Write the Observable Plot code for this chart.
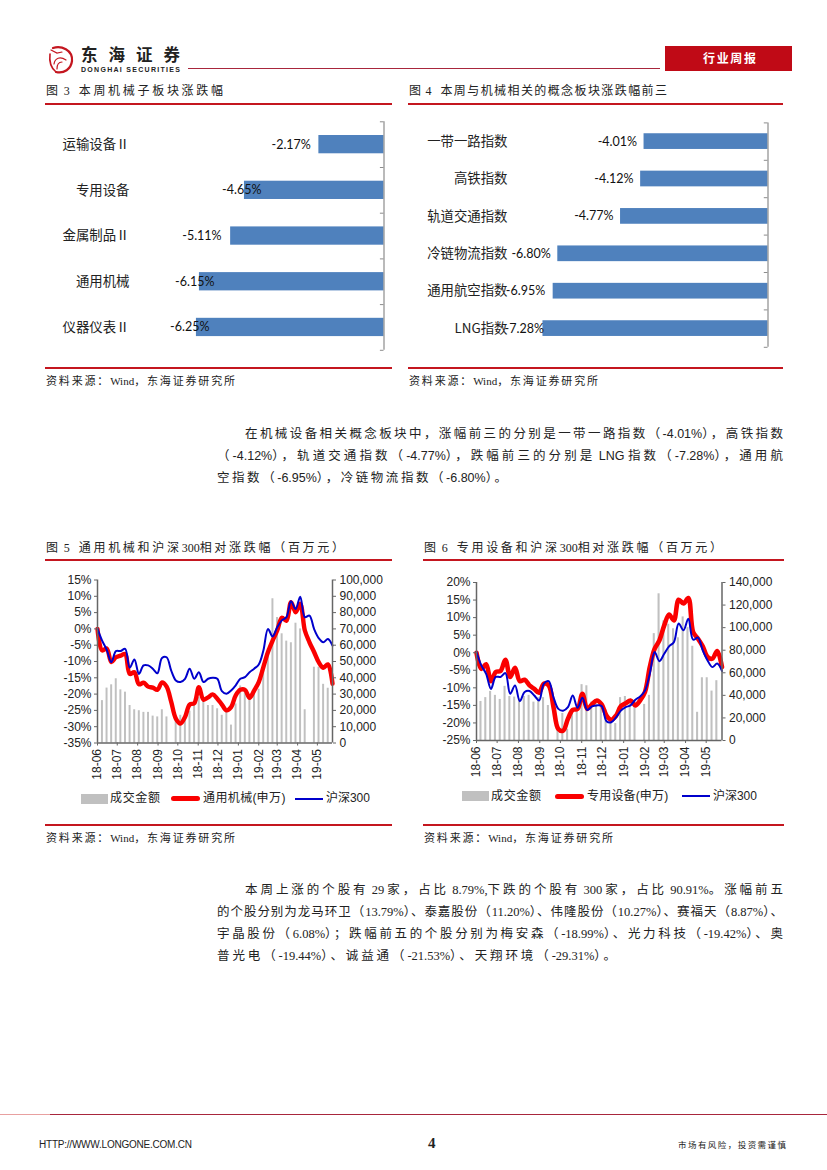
<!DOCTYPE html>
<html><head><meta charset="utf-8">
<script src="https://cdn.jsdelivr.net/npm/d3@7"></script>
<script src="https://cdn.jsdelivr.net/npm/@observablehq/plot@0.6"></script>
<style>
html,body{margin:0;padding:0;background:#fff}
#page{position:relative;width:827px;height:1170px;overflow:hidden;font-family:"Noto Sans CJK SC","Liberation Sans",sans-serif;color:#222}
#page>*{position:absolute}
.t{white-space:pre;line-height:1}
svg{display:block}
</style></head><body><div id="page"></div>
<script>
// ---------- data ----------
const fig3Names = ["运输设备Ⅱ","专用设备","金属制品Ⅱ","通用机械","仪器仪表Ⅱ"];
const fig3Values = [-2.17,-4.65,-5.11,-6.15,-6.25];
const fig4Names = ["一带一路指数","高铁指数","轨道交通指数","冷链物流指数","通用航空指数","LNG指数"];
const fig4Values = [-4.01,-4.12,-4.77,-6.80,-6.95,-7.28];

const monthTicks = ["2018-06-01","2018-07-01","2018-08-01","2018-09-01","2018-10-01","2018-11-01","2018-12-01","2019-01-01","2019-02-01","2019-03-01","2019-04-01","2019-05-01"];

const fig5Turnover = [null,26,33.7,35.7,39.4,32.6,31.2,23,20.4,19.8,18.8,18.8,16.5,16,20.4,16,0,16,17,16,19.5,24,28,26,23,23,21,17,19,11,24,35,33,28,30,33,44,58,88.5,77,67,62.5,61.5,73.5,70,20.4,0,46.5,46.5,36,33.6,null];
const fig5Sector = [0,-6.6,-6,-10.2,-8.7,-8.2,-7.7,-13.8,-13.3,-17,-16.5,-17.7,-18,-18.7,-16.4,-17.7,-22.4,-27.5,-29,-27,-23.2,-22.8,-17.9,-21.7,-21,-20.1,-21.4,-23.2,-25,-24,-20.4,-18.7,-18.7,-21.1,-18.9,-16.3,-11.7,-7.1,-3.6,-0.5,3.4,2.5,8.2,5.1,7.7,-0.5,-4.1,-7.1,-10.2,-11.9,-10.9,-16.8];
const fig5Index = [0,-3.6,-6.4,-10.2,-6.8,-6.8,-6.1,-11.9,-9.4,-13.8,-11.2,-11.2,-12.2,-13.6,-8.9,-8.7,-12.8,-15.8,-16.3,-15.3,-12.2,-15.3,-13.3,-16.3,-15.3,-15,-15.3,-19.1,-19.9,-18.9,-17.3,-15.3,-14.8,-13.3,-12.2,-10.9,-6.6,0,-2.3,0.5,2.6,3.6,8.5,6.1,9.9,3.6,4.1,0,-2.8,-4.1,-3.1,-5.1];

const fig6Turnover = [null,34.6,38,43.5,40,36.4,48,39,38.5,37,39,40,34,38,38,31,0,12,24,10,27,30,49.5,48.5,34,32.5,30,27,18,15,38,39,35.5,35,0,32,40,94.7,130,106,103,99,91,109.5,100,83.5,25,55.6,55.6,43.8,53,null];
const fig6Sector = [0,-4.6,-3.3,-8.1,-5.5,-5.2,-2,-6.9,-4.3,-8.1,-7.7,-9.3,-10.3,-11.4,-8.8,-9.3,-15.5,-21.7,-22.2,-18.8,-16.3,-16,-11.7,-16,-14.7,-13.6,-14.7,-17.9,-19.1,-17.9,-15.2,-14.4,-13.6,-15,-13.6,-11.2,-4.1,1.1,3.5,7.8,10.9,9.2,15.1,14,15.6,5.9,4,1.8,-1.2,-1.7,0.5,-4.1];
const fig6Index = [0.2,-3.6,-6,-10.3,-6.9,-6.9,-5.8,-11.7,-9.3,-13.8,-11.2,-10.9,-12.2,-13.6,-8.8,-8.1,-12.7,-16,-16.5,-15.5,-12.2,-15.7,-12.8,-16.3,-15.3,-15,-15.2,-19.5,-19.8,-18.4,-16.5,-15.5,-15,-13.4,-12.5,-10.8,-6,0.2,-2.4,-0.3,1.8,3,8.3,6.4,9.7,3.7,4.3,0.7,-2.2,-4.1,-3.1,-5.2];

const para1 = ["在机械设备相关概念板块中，涨幅前三的分别是一带一路指数（-4.01%），高铁指数",
 "（-4.12%），轨道交通指数（-4.77%），跌幅前三的分别是 LNG 指数（-7.28%），通用航",
 "空指数（-6.95%），冷链物流指数（-6.80%）。"];
const para2 = ["本周上涨的个股有 29 家，占比 8.79%,下跌的个股有 300 家，占比 90.91%。涨幅前五",
 "的个股分别为龙马环卫（13.79%）、泰嘉股份（11.20%）、伟隆股份（10.27%）、赛福天（8.87%）、",
 "宇晶股份（6.08%）；跌幅前五的个股分别为梅安森（-18.99%）、光力科技（-19.42%）、奥",
 "普光电（-19.44%）、诚益通（-21.53%）、天翔环境（-29.31%）。"];

// ---------- helpers ----------
const page = document.getElementById("page");
const parseDate = d3.utcParse("%Y-%m-%d");
const weeks = d3.utcDay.range(parseDate("2018-06-01"), parseDate("2019-05-25"), 7);
const SERIF = '"Liberation Serif","Noto Sans CJK SC",serif';
const SANS = '"Liberation Sans","Noto Sans CJK SC",sans-serif';

function box(x,y,w,h,color){
  const d=document.createElement("div");
  d.style.cssText=`left:${x}px;top:${y}px;width:${w}px;height:${h}px;background:${color}`;
  page.appendChild(d); return d;
}
// text with a given left edge, vertical centre and total width: the gaps go between CJK characters
function text(s,x,yc,w,size,opts={}){
  const d=document.createElement("div");
  d.className="t";
  d.style.cssText=`left:${x}px;font-size:${size}px;font-family:${opts.font||SERIF};color:${opts.color||"#222"};font-weight:${opts.weight||400}`;
  const runs=s.match(/[\x20-\x7e]+|[^\x20-\x7e]+/g);
  let wide=0;
  runs.forEach(r=>{
    const sp=document.createElement("span"); sp.textContent=r;
    if(/^[\x20-\x7e]/.test(r)) sp.dataset.latin="1"; else wide+=[...r].length;
    d.appendChild(sp);
  });
  page.appendChild(d);
  if(w){
    const raw=d.getBoundingClientRect().width, n=[...s].length;
    if(wide>1){
      d.querySelectorAll("[data-latin]").forEach(e=>e.style.letterSpacing="0");
      d.style.letterSpacing=((w-raw)/(wide-1))+"px";
    } else if(n>1){
      d.style.letterSpacing=((w-raw)/(n-1))+"px";
    }
  }
  d.style.top=(yc+1-d.getBoundingClientRect().height/2)+"px";
  return d;
}
function place(svg,x,y){svg.style.left=x+"px";svg.style.top=y+"px";page.appendChild(svg);}

// ---------- horizontal bar charts ----------
function barChart(names,values,cfg){
  const rows=names.map((n,i)=>({n,v:values[i],i}));
  const n=names.length;
  const tickVals=d3.range(0,n+1);
  const labelMarks=rows.map((r,i)=>Plot.text([r],{
    x:"v",y:d=>d.i+0.5,text:d=>d.v.toFixed(2)+"%",
    textAnchor:"end",dx:cfg.labelDx[i],fill:"#111",fontSize:12.5,fontFamily:'Lato,"Noto Sans",sans-serif'}));
  return Plot.plot({
    width:cfg.w,height:cfg.h,
    marginLeft:cfg.ml,marginRight:cfg.mr,marginTop:cfg.mt,marginBottom:cfg.mb,
    style:{background:"transparent",overflow:"visible"},
    x:{type:"linear",domain:cfg.xd,axis:null},
    y:{type:"linear",domain:[0,n],reverse:true,axis:null},
    marks:[
      Plot.rectX(rows,{x1:"v",x2:0,y1:d=>d.i+cfg.pad,y2:d=>d.i+1-cfg.pad,fill:"#4f81bd"}),
      Plot.ruleX([0],{y1:0,y2:n,stroke:"#8c8c8c",strokeWidth:1.2}),
      Plot.ruleY(tickVals,{y:d=>d,x1:cfg.tick,x2:0,stroke:"#8c8c8c",strokeWidth:1}),
      Plot.axisY({ticks:rows.map(r=>r.i+0.5),tickFormat:t=>names[t-0.5],anchor:"left",tickSize:0,tickPadding:cfg.pad2,
        fontSize:13.4,fill:"#222",label:null,fontFamily:'"Noto Sans CJK SC"',line:false,stroke:"none"}),
      ...labelMarks
    ]});
}

const f3=barChart(fig3Names,fig3Values,{w:350.5,h:250,ml:96,mr:0,mt:11.3,mb:10.2,xd:[-8.48,0],tick:-0.12,pad:0.3,pad2:0,labelDx:[-8,17,-9,15,13]});
place(f3,33,110);
const f4=barChart(fig4Names,fig4Values,{w:365.5,h:250,ml:108,mr:0,mt:12.4,mb:13.2,xd:[-8.33,0],tick:-0.12,pad:0.29,pad2:3,labelDx:[-7,-7,-7,-7,-8,1]});
place(f4,402,110);

// ---------- dual-axis line charts ----------
function dualChart(cfg){
  const toLeft=d3.scaleLinear().domain([0,cfg.rightMax]).range(cfg.leftDomain);
  const bars=weeks.map((d,i)=>({d,v:cfg.turnover[i]})).filter(r=>r.v);
  const series=a=>a.map((v,i)=>({d:weeks[i],v}));
  const months=monthTicks.map(parseDate);
  return Plot.plot({
    width:cfg.w,height:cfg.h,
    marginLeft:cfg.ml,marginRight:cfg.mr,marginTop:cfg.mt,marginBottom:cfg.mb,
    style:{background:"transparent",overflow:"visible"},
    x:{type:"utc",domain:[weeks[0],weeks[weeks.length-1]],axis:null},
    y:{domain:cfg.leftDomain,axis:null},
    marks:[
      Plot.rectY(bars,{x1:r=>d3.utcDay.offset(r.d,-cfg.barW/2+cfg.barShift),x2:r=>d3.utcDay.offset(r.d,cfg.barW/2+cfg.barShift),y1:cfg.leftDomain[0],y2:r=>toLeft(r.v*1000),fill:"#c0c0c0"}),
      Plot.line(series(cfg.sector),{x:"d",y:"v",stroke:"#fa0000",strokeWidth:cfg.redW,curve:"catmull-rom",strokeLinejoin:"round",strokeLinecap:"round"}),
      Plot.line(series(cfg.index),{x:"d",y:"v",stroke:"#0000cc",strokeWidth:2,curve:"catmull-rom",strokeLinejoin:"round"}),
      Plot.ruleX([weeks[0]],{stroke:"#666",strokeWidth:1.5}),
      Plot.ruleX([weeks[weeks.length-1]],{stroke:"#666",strokeWidth:1.5}),
      Plot.ruleY([cfg.leftDomain[0]],{stroke:"#666",strokeWidth:1.5}),
      Plot.axisY({anchor:"left",ticks:cfg.leftTicks,tickFormat:v=>v+"%",tickSize:3,tickPadding:3,stroke:"#666",fontSize:12,fontFamily:SANS,fill:"#222",label:null}),
      Plot.axisY({anchor:"right",ticks:cfg.rightTicks.map(v=>toLeft(v)),tickFormat:v=>d3.format(",")(Math.round(toLeft.invert(v))),tickSize:3,tickPadding:4,stroke:"#666",fontSize:12,fontFamily:SANS,fill:"#222",label:null}),
      Plot.axisX({ticks:months,tickFormat:d3.utcFormat("%y-%m"),tickRotate:-90,tickSize:3,tickPadding:3,stroke:"#666",fontSize:12,fontFamily:SANS,fill:"#222",label:null})
    ]});
}
const f5=dualChart({w:340,h:200,ml:47,mr:58,mt:9.5,mb:27.5,leftDomain:[-35,15],rightMax:100000,
  leftTicks:d3.range(-35,16,5),rightTicks:d3.range(0,100001,10000),
  turnover:fig5Turnover,sector:fig5Sector,index:fig5Index,redW:4.4,barW:3.9,barShift:1});
place(f5,50,570);
const f6=dualChart({w:340,h:200,ml:50,mr:44.5,mt:12,mb:30,leftDomain:[-25,20],rightMax:140000,
  leftTicks:d3.range(-25,21,5),rightTicks:d3.range(0,140001,20000),
  turnover:fig6Turnover,sector:fig6Sector,index:fig6Index,redW:4.6,barW:3.9,barShift:0});
place(f6,426,570);

// ---------- page furniture ----------
const RED="#c4161f";
// header
box(188,67.5,472,1,"#a8263c");
box(665,46,126.5,25,"#c00a16");
text("行业周报",703,57.5,53,12,{color:"#fff",weight:700,font:SANS});
text("东海证券",81,54,99,16.5,{weight:700,font:SANS,color:"#222"});
text("DONGHAI SECURITIES",81,68,99,7,{weight:700,font:SANS,color:"#222"});
page.insertAdjacentHTML("beforeend",`<svg style="left:47px;top:44px" width="30" height="32" viewBox="0 0 30 32" fill="none" stroke="#c4161f" stroke-linecap="round">
<path d="M6 4 C14 1 26 6 25 17 C24 25 17 30 9 28" stroke-width="2.2"/>
<path d="M3 10 C2 18 4 24 9 28" stroke-width="1.6"/>
<path d="M7 20 C8 14 13 12 19 16 M10 25 C10 20 12 18 15 18" stroke-width="1.2"/>
<path d="M4 6 L10 9 L15 8" stroke-width="1.2"/></svg>`);

// captions and rules
function figure(caption,x1,x2,capY,ruleTop,ruleBottom,capW){
  text(caption,x1+1,capY,capW,12,{font:SERIF});
  box(x1,ruleTop,x2-x1,2,RED);
  box(x1,ruleBottom,x2-x1,2,RED);
  text("资料来源：Wind，东海证券研究所",x1+1,ruleBottom+13,189,11,{font:SERIF});
}
figure("图 3   本周机械子板块涨跌幅",45,392,90,103,367,177);
figure("图 4   本周与机械相关的概念板块涨跌幅前三",408,783,90,103,367,258);
figure("图 5   通用机械和沪深300相对涨跌幅（百万元）",45,392,547,559,824,298);
figure("图 6   专用设备和沪深300相对涨跌幅（百万元）",423,784,547,559,824,298);

// legends
function legend(y,name,swatchX,lineX,txt2X,txt2W,blueX,txt3X){
  box(swatchX,y-4.5,27,10,"#c0c0c0");
  text("成交金额",swatchX+29,y-1,50,12,{font:SANS});
  const r=box(lineX,y-2,29,5,"#fa0000"); r.style.borderRadius="2.5px";
  text(name,txt2X,y-1,txt2W,12,{font:SANS});
  box(blueX,y-0.5,28,2,"#0000cc");
  text("沪深300",txt3X,y-1,44,12,{font:SANS});
}
legend(798,"通用机械(申万)",81,171,203,82,295,326);
legend(795.5,"专用设备(申万)",462,555,587,81,682,713);

// body paragraphs
function para(lines,ys,xs,ws,font){lines.forEach((s,i)=>text(s,xs[i],ys[i],ws[i],12.5,{font}));}
para(para1,[433,455,477],[245,217,217],[538,566,290],SANS);
para(para2,[889,911,933,955],[245,217,217,217],[538,566,566,399],SERIF);

// footer
box(0,1114,827,1,"#a8263c");
box(0,1113.5,50,1,"#e8a0a0");
text("HTTP://WWW.LONGONE.COM.CN",39,1144,153,10,{font:SANS});
text("4",428,1142,0,15,{font:SERIF,weight:700});
text("市场有风险，投资需谨慎",678,1144,108,8.5,{font:SERIF});
</script></body></html>
